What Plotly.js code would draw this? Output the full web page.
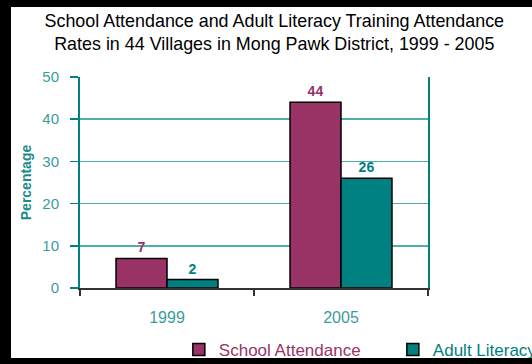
<!DOCTYPE html>
<html>
<head>
<meta charset="utf-8">
<script src="https://cdn.plot.ly/plotly-3.0.1.min.js"></script>
<style>
  html, body { margin: 0; padding: 0; background: #ffffff; }
  #frame { position: relative; width: 532px; height: 364px; overflow: hidden; background: #ffffff; }
  #chart { position: absolute; left: 11px; top: 7px; width: 621px; height: 380px; }
  .bar { position: absolute; background: #000000; z-index: 10; }
</style>
</head>
<body>
<div id="frame">
  <div id="chart"></div>
  <div class="bar" style="left:0;top:0;width:532px;height:7px"></div>
  <div class="bar" style="left:0;top:0;width:11px;height:364px"></div>
  <div class="bar" style="left:0;top:358px;width:532px;height:6px"></div>
</div>
<script>
const years = ["1999", "2005"];
const schoolAttendance = [7, 44];
const adultLiteracy = [2, 26];
const seriesNames = ["School Attendance", "Adult Literacy"];
const yTicks = [0, 10, 20, 30, 40, 50];

const purple = "#993366";
const teal = "#008080";
const tickTeal = "#3a9c9c";
const fontFam = "Arial, Liberation Sans, sans-serif";

const traces = [
  {
    type: "bar", x: years, y: schoolAttendance, legend: "legend",
    name: '<span style="color:' + purple + '">' + seriesNames[0] + '</span>',
    marker: { color: purple, line: { color: "#000000", width: 1.5 } },
    text: schoolAttendance.map(String), textposition: "outside", cliponaxis: false,
    textfont: { family: fontFam, size: 14, color: purple, weight: "bold" }
  },
  {
    type: "bar", x: years, y: adultLiteracy, legend: "legend2",
    name: '<span style="color:' + teal + '">' + seriesNames[1] + '</span>',
    marker: { color: teal, line: { color: "#000000", width: 1.5 } },
    text: adultLiteracy.map(String), textposition: "outside", cliponaxis: false,
    textfont: { family: fontFam, size: 14, color: teal, weight: "bold" }
  }
];

const legendCommon = {
  orientation: "h", xanchor: "left", y: -0.294, yanchor: "middle",
  font: { size: 17 }, bgcolor: "rgba(0,0,0,0)"
};

const layout = {
  width: 621, height: 380,
  margin: { l: 69, r: 204, t: 70, b: 99 },
  paper_bgcolor: "rgba(0,0,0,0)", plot_bgcolor: "#ffffff",
  font: { family: fontFam },
  title: {
    text: "School Attendance and Adult Literacy Training Attendance<br>Rates in 44 Villages in Mong Pawk District, 1999 - 2005",
    font: { size: 17.9, color: "#000000" },
    xref: "container", x: 0.424, xanchor: "center",
    yref: "container", y: 0.947, yanchor: "top"
  },
  barmode: "group", bargap: 0.414, bargroupgap: 0,
  showlegend: true,
  legend: Object.assign({}, legendCommon, { x: 0.284 }),
  legend2: Object.assign({}, legendCommon, { x: 0.899 }),
  xaxis: {
    type: "category",
    showline: true, linecolor: "#333333", linewidth: 2,
    ticks: "outside", tickson: "boundaries", ticklen: 6, tickcolor: "#333333", tickwidth: 1.5,
    tickfont: { size: 16, color: tickTeal },
    ticklabelstandoff: 14,
    showgrid: false
  },
  yaxis: {
    range: [0, 50], tickvals: yTicks,
    showline: true, mirror: true, linecolor: teal, linewidth: 2,
    ticks: "outside", ticklen: 8, tickcolor: teal, tickwidth: 1.5,
    tickfont: { size: 15, color: tickTeal },
    ticklabelstandoff: 8,
    showgrid: true, gridcolor: "#4fb0aa", gridwidth: 1.5,
    zeroline: false,
    title: { text: "Percentage", font: { size: 14, color: "#1a8a8a", weight: "bold" }, standoff: 7 }
  }
};

Plotly.newPlot("chart", traces, layout, { displayModeBar: false, staticPlot: true });
</script>
</body>
</html>
